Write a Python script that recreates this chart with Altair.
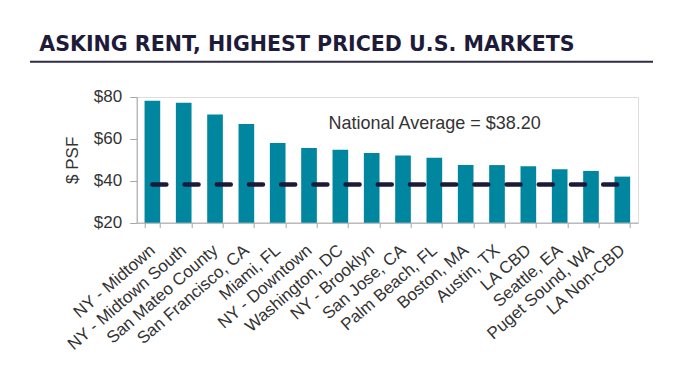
import altair as alt
import pandas as pd

markets = ["NY - Midtown", "NY - Midtown South", "San Mateo County", "San Francisco, CA",
           "Miami, FL", "NY - Downtown", "Washington, DC", "NY - Brooklyn", "San Jose, CA",
           "Palm Beach, FL", "Boston, MA", "Austin, TX", "LA CBD", "Seattle, EA",
           "Puget Sound, WA", "LA Non-CBD"]
rents = [78.2, 77.3, 71.6, 67.1, 58.1, 55.7, 54.8, 53.3, 52.1, 51.0, 47.5, 47.5, 47.0, 45.5, 44.7, 42.0]
national_avg = 38.2
y_ticks = [20, 40, 60, 80]
title_text = "ASKING RENT, HIGHEST PRICED U.S. MARKETS"
avg_label = "National Average = $38.20"

W = 501.3
H = 125.7
FONT = "Liberation Sans"
TEXT_COLOR = "#333333"
AXIS_COLOR = "#a6a6a6"

df = pd.DataFrame({"market": markets, "rent": rents})

x_scale = alt.Scale(domain=markets, paddingInner=0.5, paddingOuter=0.25)
x_enc = alt.X("market:N", title=None, scale=x_scale,
              axis=alt.Axis(labelAngle=-41, labelAlign="right", labelBaseline="middle",
                            labelFontSize=17, labelFont=FONT, labelColor=TEXT_COLOR,
                            labelPadding=20, tickSize=5, tickBand="extent",
                            domainColor=AXIS_COLOR, tickColor=AXIS_COLOR, labelOverlap=False))
y_scale = alt.Scale(domain=[20, 80], nice=False, zero=False)

bars = alt.Chart(df).mark_bar(color="#00879f").encode(
    x=x_enc,
    y=alt.Y("rent:Q", scale=y_scale, title="$ PSF",
            axis=alt.Axis(values=y_ticks, format="$,.0f", grid=False,
                          labelFontSize=17, labelFont=FONT, labelColor=TEXT_COLOR,
                          labelPadding=8, tickSize=7,
                          titleFont=FONT, titleFontSize=17, titleFontWeight="normal",
                          titleColor=TEXT_COLOR, titlePadding=12,
                          domainColor=AXIS_COLOR, tickColor=AXIS_COLOR)),
    y2=alt.datum(20),
)

avg_df = pd.DataFrame({"start": [markets[0]], "end": [markets[-1]], "avg": [national_avg]})
avg_line = alt.Chart(avg_df).mark_rule(color="#1c1a3c", strokeWidth=4.5,
                                       strokeDash=[14, 18.2], strokeCap="round").encode(
    x=alt.X("start:N", scale=x_scale),
    x2="end:N",
    y=alt.Y("avg:Q", scale=y_scale),
)

avg_text = alt.Chart(pd.DataFrame({"t": [avg_label]})).mark_text(
    font=FONT, fontSize=18, color=TEXT_COLOR, align="center", baseline="alphabetic"
).encode(text="t:N", x=alt.value(298), y=alt.value(32))

title = alt.Chart(pd.DataFrame({"t": [title_text]})).mark_text(
    font="DejaVu Sans", fontSize=20.6, fontWeight=700, color="#1e1b3a", align="left", baseline="alphabetic"
).encode(text="t:N", x=alt.value(-97.5), y=alt.value(-46))

underline = alt.Chart(pd.DataFrame({"a": [0]})).mark_rule(color="#2d2b4a", strokeWidth=2).encode(
    x=alt.value(-106.7), x2=alt.value(516.3), y=alt.value(-35.3))

chart = alt.layer(bars, avg_line, avg_text, title, underline).properties(
    width=W, height=H,
    autosize=alt.AutoSizeParams(type="none"),
    padding={"left": 128.7, "top": 89, "right": 27, "bottom": 152},
).configure_view(strokeWidth=0).configure(background="white")

chart.save("out.html", embed_options={"renderer": "svg", "actions": False})
